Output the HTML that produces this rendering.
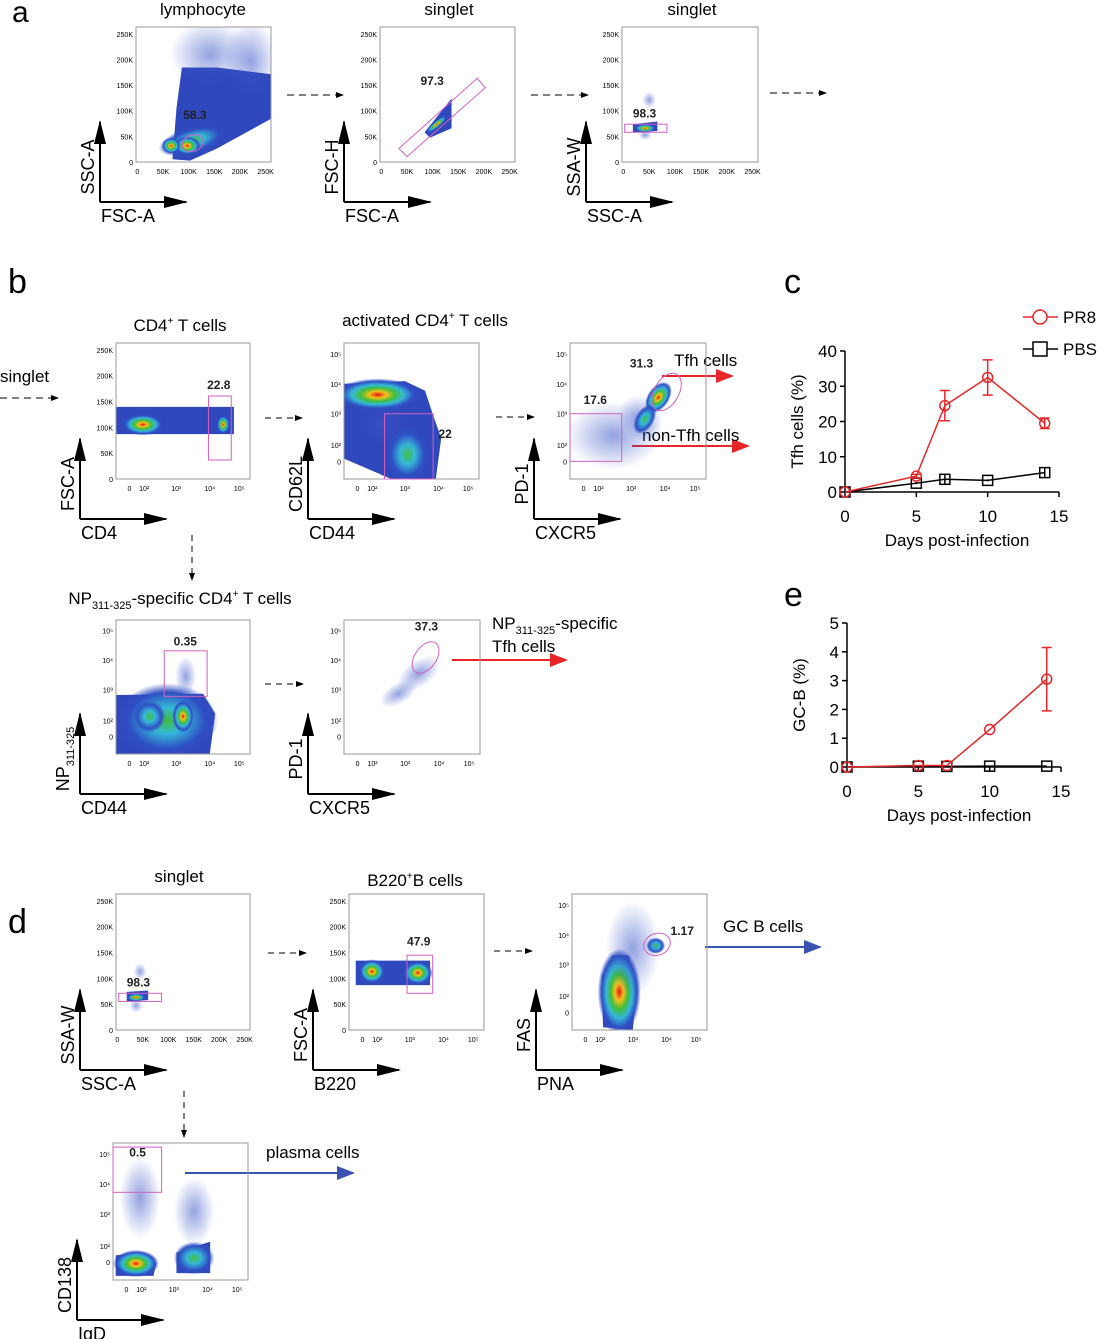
<!DOCTYPE html>
<html><head><meta charset="utf-8"><style>
html,body{margin:0;padding:0;background:#fff}
svg{display:block}
text{font-family:"Liberation Sans",sans-serif}
</style></head><body>
<svg id="fig" width="1100" height="1339" viewBox="0 0 1100 1339" xmlns="http://www.w3.org/2000/svg">
<defs>
<radialGradient id="hot"><stop offset="0" stop-color="#e8121a"/><stop offset=".2" stop-color="#f2c21a"/><stop offset=".4" stop-color="#3fbf3a"/><stop offset=".6" stop-color="#35b8d8"/><stop offset=".82" stop-color="#2f4fc4"/><stop offset="1" stop-color="#2f4fc4" stop-opacity="0"/></radialGradient>
<radialGradient id="cool"><stop offset="0" stop-color="#3fbf3a"/><stop offset=".35" stop-color="#35b8d8"/><stop offset=".75" stop-color="#2f4fc4"/><stop offset="1" stop-color="#2f4fc4" stop-opacity="0"/></radialGradient>
<radialGradient id="sparse"><stop offset="0" stop-color="#3a55c8" stop-opacity=".55"/><stop offset="1" stop-color="#3a55c8" stop-opacity="0"/></radialGradient>
<marker id="ahB" markerWidth="8" markerHeight="8" refX="7" refY="4" orient="auto" markerUnits="userSpaceOnUse"><path d="M0,1 L8,4 L0,7z" fill="#000"/></marker>
<marker id="ahBig" markerWidth="24" markerHeight="12" refX="22" refY="6" orient="auto" markerUnits="userSpaceOnUse"><path d="M0,0 L24,6 L0,12z" fill="#000"/></marker>
<marker id="ahR" markerWidth="18" markerHeight="14" refX="16" refY="7" orient="auto" markerUnits="userSpaceOnUse"><path d="M0,0 L18,7 L0,14z" fill="#e8262a"/></marker>
<marker id="ahU" markerWidth="18" markerHeight="14" refX="16" refY="7" orient="auto" markerUnits="userSpaceOnUse"><path d="M0,0 L18,7 L0,14z" fill="#3a52b0"/></marker>
</defs>

<text x="12" y="22" font-size="30">a</text>
<text x="8" y="293" font-size="34">b</text>
<text x="784" y="293" font-size="34">c</text>
<text x="784" y="606" font-size="34">e</text>
<text x="8" y="933" font-size="34">d</text>

<g font-size="17" text-anchor="middle">
<text x="203" y="15">lymphocyte</text>
<text x="449" y="15">singlet</text>
<text x="692" y="15">singlet</text>
<text x="180" y="331">CD4<tspan font-size="10" dy="-7">+</tspan><tspan dy="7"> T cells</tspan></text>
<text x="425" y="326">activated CD4<tspan font-size="10" dy="-7">+</tspan><tspan dy="7"> T cells</tspan></text>
<text x="180" y="604">NP<tspan font-size="11" dy="5">311-325</tspan><tspan dy="-5">-specific CD4</tspan><tspan font-size="10" dy="-7">+</tspan><tspan dy="7"> T cells</tspan></text>
<text x="179" y="882">singlet</text>
<text x="415" y="886">B220<tspan font-size="10" dy="-7">+</tspan><tspan dy="7">B cells</tspan></text>
</g>

<g fill="none">
<line x1="287" y1="95" x2="343" y2="95" stroke="#000" stroke-dasharray="7,5" marker-end="url(#ahB)"/>
<line x1="531" y1="95" x2="588" y2="95" stroke="#000" stroke-dasharray="7,5" marker-end="url(#ahB)"/>
<line x1="770" y1="93" x2="826" y2="93" stroke="#000" stroke-dasharray="7,5" marker-end="url(#ahB)"/>
<line x1="0" y1="398" x2="58" y2="398" stroke="#000" stroke-dasharray="7,5" marker-end="url(#ahB)"/>
<line x1="265" y1="418" x2="302" y2="418" stroke="#000" stroke-dasharray="6,5" marker-end="url(#ahB)"/>
<line x1="496" y1="417" x2="534" y2="417" stroke="#000" stroke-dasharray="6,5" marker-end="url(#ahB)"/>
<line x1="192" y1="535" x2="192" y2="580" stroke="#000" stroke-dasharray="6,5" marker-end="url(#ahB)"/>
<line x1="265" y1="684" x2="303" y2="684" stroke="#000" stroke-dasharray="6,5" marker-end="url(#ahB)"/>
<line x1="268" y1="953" x2="306" y2="953" stroke="#000" stroke-dasharray="6,5" marker-end="url(#ahB)"/>
<line x1="494" y1="951" x2="532" y2="951" stroke="#000" stroke-dasharray="6,5" marker-end="url(#ahB)"/>
<line x1="184" y1="1091" x2="184" y2="1137" stroke="#000" stroke-dasharray="6,5" marker-end="url(#ahB)"/>
<line x1="662" y1="376" x2="732" y2="376" stroke="#e8262a" stroke-width="2" marker-end="url(#ahR)"/>
<line x1="632" y1="446" x2="748" y2="446" stroke="#e8262a" stroke-width="2" marker-end="url(#ahR)"/>
<line x1="452" y1="660" x2="566" y2="660" stroke="#e8262a" stroke-width="2" marker-end="url(#ahR)"/>
<line x1="705" y1="947" x2="820" y2="947" stroke="#3a52b0" stroke-width="2" marker-end="url(#ahU)"/>
<line x1="185" y1="1173" x2="353" y2="1173" stroke="#3a52b0" stroke-width="2" marker-end="url(#ahU)"/>
</g>
<g font-size="17">
<text x="0" y="382">singlet</text>
<text x="674" y="366">Tfh cells</text>
<text x="642" y="441">non-Tfh cells</text>
<text x="492" y="629">NP<tspan font-size="11" dy="5">311-325</tspan><tspan dy="-5">-specific</tspan></text>
<text x="492" y="652">Tfh cells</text>
<text x="723" y="932">GC B cells</text>
<text x="266" y="1158">plasma cells</text>
</g>

<g id="flows"></g>

<g id="chartC"></g>
<g id="chartE"></g>
<g>
<line x1="1023" y1="317" x2="1058" y2="317" stroke="#e8262a" stroke-width="1.5"/>
<circle cx="1040" cy="317" r="7" fill="#fff" stroke="#e8262a" stroke-width="1.5"/>
<text x="1063" y="323" font-size="17">PR8</text>
<line x1="1023" y1="349" x2="1058" y2="349" stroke="#000" stroke-width="1.5"/>
<rect x="1033" y="342" width="14" height="14" fill="#fff" stroke="#000" stroke-width="1.5"/>
<text x="1063" y="355" font-size="17">PBS</text>
</g>
</svg>
<script>
const days = [0, 5, 7, 10, 14];
const pr8Tfh = [0, 4.5, 24.5, 32.5, 19.5];
const pr8TfhErr = [0, 0.5, 4.3, 5, 1.5];
const pbsTfh = [0, 2.5, 3.6, 3.3, 5.5];
const pbsTfhErr = [0, 0.3, 1.2, 0.3, 1.3];
const gcDays = [0, 5, 7, 10, 14];
const pr8Gcb = [0, 0.05, 0.05, 1.3, 3.05];
const pr8GcbErr = [0, 0, 0, 0.05, 1.1];
const pbsGcb = [0, 0.03, 0.02, 0.03, 0.03];
const tfhTicks = [0, 10, 20, 30, 40];
const gcbTicks = [0, 1, 2, 3, 4, 5];
const dayTicks = [0, 5, 10, 15];

const NS = 'http://www.w3.org/2000/svg';
function mk(tag, attrs, parent) {
  const e = document.createElementNS(NS, tag);
  for (const k in attrs) e.setAttribute(k, attrs[k]);
  parent.appendChild(e);
  return e;
}

function lineChart(g, x0, x1, y0, y1, ymax, yTicks, yTitle, prV, prE, pbV, pbE, xs) {
  const sx = d => x0 + (x1 - x0) * d / 15;
  const sy = v => y0 - (y0 - y1) * v / ymax;
  let a = mk('line', {x1: x0, y1: y1, x2: x0, y2: y0, stroke: '#000', 'stroke-width': 1.5}, g);
  
  
  a = mk('line', {x1: x0, y1: y0, x2: sx(15), y2: y0, stroke: '#000', 'stroke-width': 1.5}, g);
  
  
  yTicks.forEach(t => {
    const l = mk('line', {x1: x0 - 5, x2: x0, y1: sy(t), y2: sy(t), stroke: '#000', 'stroke-width': 1.5}, g);
    
    
    const tx = mk('text', {x: x0 - 8, y: sy(t) + 6, 'font-size': 17, 'text-anchor': 'end'}, g);
    tx.textContent = t;
    
    
  });
  dayTicks.forEach(t => {
    const l = mk('line', {x1: sx(t), x2: sx(t), y1: y0, y2: y0 + 5, stroke: '#000', 'stroke-width': 1.5}, g);
    
    
    const tx = mk('text', {x: sx(t), y: y0 + 30, 'font-size': 17, 'text-anchor': 'middle'}, g);
    tx.textContent = t;
    
    
  });
  let t = mk('text', {x: (x0 + sx(15)) / 2 + 5, y: y0 + 54, 'font-size': 17, 'text-anchor': 'middle'}, g);
  t.textContent = 'Days post-infection';
  
  
  const cy = (y0 + y1) / 2;
  t = mk('text', {x: x0 - 42, y: cy, 'font-size': 17, 'text-anchor': 'middle', transform: `rotate(-90 ${x0 - 42} ${cy})`}, g);
  t.textContent = yTitle;
  
  
  let p = mk('polyline', {points: xs.map((d, i) => sx(d) + ',' + sy(pbV[i])).join(' '), fill: 'none', stroke: '#000', 'stroke-width': 1.5}, g);
  
  
  xs.forEach((d, i) => {
    if (pbE) {
      const e = mk('path', {d: `M${sx(d)},${sy(pbV[i] - pbE[i])}V${sy(pbV[i] + pbE[i])}`, stroke: '#000', 'stroke-width': 1.5}, g);
      
      
    }
    const r = mk('rect', {x: sx(d) - 5, y: sy(pbV[i]) - 5, width: 10, height: 10, fill: 'none', stroke: '#000', 'stroke-width': 1.5}, g);
    
    
  });
  p = mk('polyline', {points: xs.map((d, i) => sx(d) + ',' + sy(prV[i])).join(' '), fill: 'none', stroke: '#e8262a', 'stroke-width': 1.5}, g);
  
  
  xs.forEach((d, i) => {
    if (prE[i] > 0.2) {
      const x = sx(d), a1 = sy(prV[i] + prE[i]), a2 = sy(prV[i] - prE[i]);
      const e = mk('path', {d: `M${x},${a1}V${a2}M${x - 5},${a1}H${x + 5}M${x - 5},${a2}H${x + 5}`, stroke: '#e8262a', 'stroke-width': 1.5, fill: 'none'}, g);
      
      
    }
    const c = mk('circle', {cx: sx(d), cy: sy(prV[i]), r: 5, fill: 'none', stroke: '#e8262a', 'stroke-width': 1.5}, g);
    
    
  });
}
lineChart(document.getElementById('chartC'), 845, 1059, 492, 351, 40, tfhTicks, 'Tfh cells (%)', pr8Tfh, pr8TfhErr, pbsTfh, pbsTfhErr, days);
lineChart(document.getElementById('chartE'), 847, 1061, 767, 623, 5, gcbTicks, 'GC-B (%)', pr8Gcb, pr8GcbErr, pbsGcb, null, gcDays);

const flows = document.getElementById('flows');
const linLabels = ['0', '50K', '100K', '150K', '200K', '250K'];
const logLabels = ['0', '10²', '10³', '10⁴', '10⁵'];
const logPosX = [0.1, 0.21, 0.45, 0.7, 0.92];
const logPosY = [0.87, 0.75, 0.52, 0.3, 0.08];

function panel(o) {
  const g = mk('g', {}, flows);
  
  
  const {x, y, w, h} = o;
  const X = f => x + f * w, Y = f => y + f * h;
  const clip = 'c' + o.name;
  const cp = mk('clipPath', {id: clip}, g);
  mk('rect', {x: x, y: y, width: w, height: h}, cp);
  const inner = mk('g', {'clip-path': `url(#${clip})`}, g);
  (o.polys || []).forEach(pl => {
    const e = mk('polygon', {points: pl.map(q => X(q[0]) + ',' + Y(q[1])).join(' '), fill: '#3048bd'}, inner);
    
    
  });
  (o.blobs || []).forEach(b => {
    const e = mk('ellipse', {cx: X(b[0]), cy: Y(b[1]), rx: b[2] * w, ry: b[3] * h, fill: `url(#${b[4]})`, transform: `rotate(${b[5] || 0} ${X(b[0])} ${Y(b[1])})`}, inner);
    
    
  });
  const box = mk('rect', {x: x, y: y, width: w, height: h, fill: 'none', stroke: '#999', 'stroke-width': 1}, g);
  
  
  const xl = o.xlog ? logLabels : linLabels, yl = o.ylog ? logLabels : linLabels;
  xl.forEach((s, i) => {
    const fx = o.xlog ? logPosX[i] : 0.01 + i * 0.19;
    const t = mk('text', {x: X(fx), y: y + h + 12, 'font-size': 7, 'text-anchor': 'middle', 'font-family': 'Liberation Serif, serif'}, g);
    t.textContent = s;
    
    
  });
  yl.forEach((s, i) => {
    const fy = o.ylog ? logPosY[i] : 1 - i * 0.19;
    const t = mk('text', {x: x - 3, y: Y(fy) + 3, 'font-size': 7, 'text-anchor': 'end', 'font-family': 'Liberation Serif, serif'}, g);
    t.textContent = s;
    
    
  });
  (o.gates || []).forEach(gt => {
    let e;
    if (gt[0] === 'r') e = mk('rect', {x: X(gt[1]), y: Y(gt[2]), width: (gt[3] - gt[1]) * w, height: (gt[4] - gt[2]) * h, fill: 'none', stroke: '#d060c0', 'stroke-width': 1}, g);
    else if (gt[0] === 'e') e = mk('ellipse', {cx: X(gt[1]), cy: Y(gt[2]), rx: gt[3] * w, ry: gt[4] * h, fill: 'none', stroke: '#d060c0', 'stroke-width': 1, transform: `rotate(${gt[5] || 0} ${X(gt[1])} ${Y(gt[2])})`}, g);
    else e = mk('polygon', {points: gt[1].map(q => X(q[0]) + ',' + Y(q[1])).join(' '), fill: 'none', stroke: '#d060c0', 'stroke-width': 1}, g);
    
    
  });
  (o.labels || []).forEach(lb => {
    const t = mk('text', {x: X(lb[1]), y: Y(lb[2]), 'font-size': 12, 'font-weight': 'bold', fill: '#222'}, g);
    t.textContent = lb[0];
    
    
  });
  const vx = x - 36, cy = y + h + 40;
  let a = mk('path', {d: `M${vx},${cy}V${y + h - 40}`, stroke: '#000', 'stroke-width': 2, 'marker-end': 'url(#ahBig)', fill: 'none'}, g);
  
  
  a = mk('path', {d: `M${vx},${cy}H${x + 50}`, stroke: '#000', 'stroke-width': 2, 'marker-end': 'url(#ahBig)', fill: 'none'}, g);
  
  
  let t = mk('text', {x: vx + 1, y: cy + 20, 'font-size': 18}, g);
  t.textContent = o.xt;
  
  
  const ly = y + h + 5, lx = vx - (o.ytSub ? 11 : 6);
  t = mk('text', {x: lx, y: ly, 'font-size': 18, 'text-anchor': 'middle', transform: `rotate(-90 ${lx} ${ly})`}, g);
  if (o.ytSub) { t.textContent = o.yt; const s = mk('tspan', {'font-size': 11, dy: 5}, t); s.textContent = o.ytSub; }
  else t.textContent = o.yt;
  
  
}

panel({name: 'plot-lymphocyte', x: 136, y: 27, w: 135, h: 135, xt: 'FSC-A', yt: 'SSC-A',
  polys: [[[0.27, 0.98], [0.3, 0.6], [0.34, 0.3], [0.6, 0.3], [1, 0.35], [1, 0.68], [0.6, 0.9], [0.4, 0.99]]],
  blobs: [[0.55, 0.2, 0.3, 0.25, 'sparse'], [0.85, 0.25, 0.2, 0.3, 'sparse'], [0.42, 0.84, 0.26, 0.1, 'cool', -15], [0.38, 0.88, 0.1, 0.07, 'hot'], [0.26, 0.88, 0.07, 0.06, 'hot']],
  gates: [['e', 0.42, 0.86, 0.08, 0.06, -20]], labels: [['58.3', 0.35, 0.68]]});
panel({name: 'plot-singlet-fsc', x: 380, y: 27, w: 135, h: 135, xt: 'FSC-A', yt: 'FSC-H',
  polys: [[[0.33, 0.78], [0.53, 0.53], [0.53, 0.75], [0.37, 0.82]]],
  blobs: [[0.42, 0.72, 0.1, 0.025, 'hot', -40]],
  gates: [['p', [[0.14, 0.9], [0.72, 0.38], [0.78, 0.45], [0.2, 0.96]]]], labels: [['97.3', 0.3, 0.43]]});
panel({name: 'plot-singlet-ssc', x: 622, y: 27, w: 136, h: 135, xt: 'SSC-A', yt: 'SSA-W',
  polys: [[[0.08, 0.72], [0.26, 0.7], [0.26, 0.77], [0.08, 0.78]]],
  blobs: [[0.17, 0.75, 0.08, 0.03, 'hot'], [0.2, 0.54, 0.05, 0.06, 'sparse'], [0.17, 0.8, 0.05, 0.04, 'sparse']],
  gates: [['r', 0.02, 0.72, 0.33, 0.78]], labels: [['98.3', 0.08, 0.67]]});

panel({name: 'plot-cd4', x: 116, y: 343, w: 134, h: 136, xt: 'CD4', yt: 'FSC-A', xlog: true,
  polys: [[[0, 0.47], [0.88, 0.47], [0.88, 0.67], [0, 0.67]]],
  blobs: [[0.2, 0.6, 0.16, 0.08, 'hot'], [0.8, 0.6, 0.05, 0.07, 'hot']],
  gates: [['r', 0.69, 0.39, 0.86, 0.86]], labels: [['22.8', 0.68, 0.34]]});
panel({name: 'plot-cd62l', x: 344, y: 343, w: 135, h: 136, xt: 'CD44', yt: 'CD62L', xlog: true, ylog: true,
  polys: [[[0, 0.3], [0.45, 0.28], [0.6, 0.35], [0.65, 0.5], [0.72, 0.7], [0.68, 1], [0.35, 1], [0, 0.85]]],
  blobs: [[0.25, 0.38, 0.32, 0.12, 'hot'], [0.47, 0.82, 0.16, 0.2, 'cool'], [0.3, 0.6, 0.2, 0.15, 'sparse']],
  gates: [['r', 0.3, 0.52, 0.66, 1]], labels: [['22', 0.7, 0.7]]});
panel({name: 'plot-pd1-cxcr5', x: 570, y: 343, w: 136, h: 136, xt: 'CXCR5', yt: 'PD-1', xlog: true, ylog: true,
  blobs: [[0.32, 0.68, 0.35, 0.25, 'sparse'], [0.52, 0.55, 0.15, 0.18, 'sparse', -40], [0.65, 0.4, 0.08, 0.13, 'hot', 35], [0.55, 0.56, 0.07, 0.12, 'cool', 30]],
  gates: [['e', 0.71, 0.36, 0.09, 0.15, 30], ['r', 0, 0.52, 0.38, 0.87]], labels: [['31.3', 0.44, 0.18], ['17.6', 0.1, 0.45]]});

panel({name: 'plot-np-cd44', x: 116, y: 620, w: 134, h: 134, xt: 'CD44', yt: 'NP', ytSub: '311-325', xlog: true, ylog: true,
  polys: [[[0, 0.56], [0.65, 0.55], [0.74, 0.7], [0.7, 1], [0, 1]]],
  blobs: [[0.38, 0.75, 0.38, 0.28, 'cool'], [0.5, 0.72, 0.08, 0.12, 'hot'], [0.25, 0.72, 0.12, 0.12, 'cool'], [0.52, 0.42, 0.08, 0.15, 'sparse']],
  gates: [['r', 0.36, 0.23, 0.68, 0.57]], labels: [['0.35', 0.43, 0.19]]});
panel({name: 'plot-np-pd1', x: 344, y: 620, w: 136, h: 134, xt: 'CXCR5', yt: 'PD-1', xlog: true, ylog: true,
  blobs: [[0.55, 0.4, 0.18, 0.1, 'sparse', -35], [0.4, 0.55, 0.15, 0.08, 'sparse', -30]],
  gates: [['e', 0.6, 0.28, 0.13, 0.08, -55]], labels: [['37.3', 0.52, 0.08]]});

panel({name: 'plot-singlet-d', x: 116, y: 894, w: 134, h: 136, xt: 'SSC-A', yt: 'SSA-W',
  polys: [[[0.08, 0.72], [0.24, 0.71], [0.24, 0.78], [0.08, 0.79]]],
  blobs: [[0.15, 0.76, 0.07, 0.03, 'hot'], [0.18, 0.57, 0.05, 0.06, 'sparse'], [0.15, 0.82, 0.05, 0.05, 'sparse']],
  gates: [['r', 0.02, 0.73, 0.34, 0.79]], labels: [['98.3', 0.08, 0.68]]});
panel({name: 'plot-b220', x: 349, y: 894, w: 135, h: 136, xt: 'B220', yt: 'FSC-A', xlog: true,
  polys: [[[0.05, 0.49], [0.6, 0.49], [0.6, 0.67], [0.05, 0.67]]],
  blobs: [[0.17, 0.57, 0.1, 0.09, 'hot'], [0.51, 0.58, 0.11, 0.09, 'hot']],
  gates: [['r', 0.43, 0.45, 0.62, 0.73]], labels: [['47.9', 0.43, 0.38]]});
panel({name: 'plot-fas-pna', x: 572, y: 894, w: 135, h: 136, xt: 'PNA', yt: 'FAS', xlog: true, ylog: true,
  polys: [[[0.23, 0.98], [0.22, 0.6], [0.3, 0.45], [0.42, 0.45], [0.48, 0.7], [0.45, 1]]],
  blobs: [[0.35, 0.72, 0.16, 0.32, 'hot'], [0.62, 0.38, 0.07, 0.06, 'cool'], [0.45, 0.4, 0.2, 0.35, 'sparse']],
  gates: [['e', 0.63, 0.37, 0.1, 0.08, -20]], labels: [['1.17', 0.73, 0.3]]});
panel({name: 'plot-cd138-igd', x: 113, y: 1143, w: 135, h: 137, xt: 'IgD', yt: 'CD138', xlog: true, ylog: true,
  polys: [[[0.02, 0.82], [0.22, 0.8], [0.32, 0.88], [0.3, 0.97], [0.02, 0.97]], [[0.47, 0.8], [0.72, 0.72], [0.72, 0.95], [0.47, 0.95]]],
  blobs: [[0.17, 0.88, 0.17, 0.1, 'hot'], [0.6, 0.84, 0.15, 0.12, 'cool'], [0.6, 0.5, 0.15, 0.25, 'sparse'], [0.2, 0.4, 0.15, 0.3, 'sparse']],
  gates: [['r', 0, 0.03, 0.36, 0.36]], labels: [['0.5', 0.12, 0.1]]});
</script>
</body></html>
